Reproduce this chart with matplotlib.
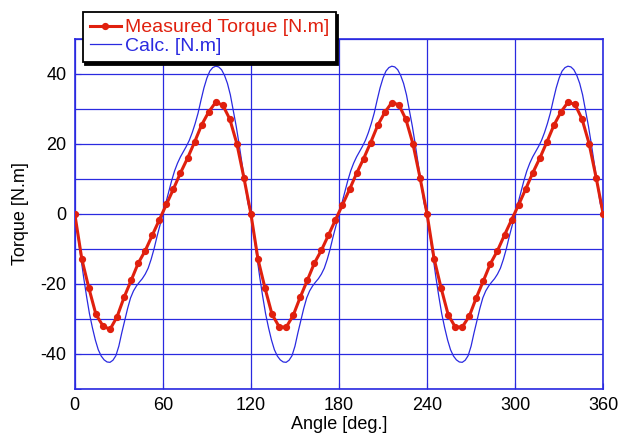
import matplotlib.pyplot as plt
from matplotlib.ticker import MultipleLocator

plt.rcParams['font.family'] = ['Liberation Sans', 'DejaVu Sans']
plt.rcParams['axes.unicode_minus'] = False

# measured torque, one point every 4.8 deg
meas_angle = [i * 4.8 for i in range(76)]
meas_torque = [
    0, -12.9, -21.2, -28.7, -32.0, -33.0, -29.4, -23.8, -19.0, -14.1, -10.5, -6.1, -1.7,
    2.7, 7.1, 11.7, 15.9, 20.5, 25.4, 29.1, 31.9, 31.1, 27.1, 20.1, 10.4,
    0, -12.9, -21.2, -28.7, -32.2, -32.4, -29.0, -23.8, -19.0, -14.1, -10.4, -6.1, -1.7,
    2.6, 7.0, 11.6, 15.8, 20.4, 25.3, 29.0, 31.8, 31.2, 27.0, 20.0, 10.4,
    0, -12.8, -21.2, -28.8, -32.3, -32.3, -29.2, -23.9, -19.1, -14.2, -10.5, -6.0, -1.7,
    2.6, 7.1, 11.7, 15.9, 20.5, 25.3, 29.1, 31.9, 31.3, 27.1, 20.1, 10.4, 0,
]

# calculated torque over one 120 deg period, read every 2 deg
calc_period = [
    0, -6, -12, -18, -23.5, -28.5, -32.5, -36, -38.8, -40.6, -41.7, -42.3, -42.4,
    -41.8, -40.5, -37.8, -34, -30.5, -27, -24, -22, -20.6, -19.5, -18.5, -17.2,
    -15.5, -13, -10, -6.5, -3.3, 0, 3.2, 6.3, 9.5, 12.3, 14.5, 16.3, 17.8, 19.3,
    21, 23.2, 25.8, 28.8, 32.5, 36, 38.8, 40.8, 41.8, 42.2, 42, 41.2, 39.6, 37.3,
    34, 29.5, 25, 19.8, 14.2, 8.5, 3,
]
calc_torque = calc_period * 3 + [0]
calc_angle = [i * 2 for i in range(len(calc_torque))]

blue = '#2a2ae0'
red = '#e0200e'

fig = plt.figure(figsize=(6.18, 4.37), dpi=100)
ax = fig.add_axes([0.121, 0.110, 0.855, 0.801])

ax.plot(meas_angle, meas_torque, color=red, lw=2.2, marker='o', ms=4.2,
        label='Measured Torque [N.m]', zorder=3)
ax.plot(calc_angle, calc_torque, color=blue, lw=0.9, label='Calc. [N.m]', zorder=2)

ax.set_xlim(0, 360)
ax.set_ylim(-50, 50)
ax.xaxis.set_major_locator(MultipleLocator(60))
ax.yaxis.set_major_locator(MultipleLocator(20))
ax.yaxis.set_minor_locator(MultipleLocator(10))
ax.grid(True, which='both', color=blue, lw=0.9)
ax.tick_params(which='both', direction='in', colors=blue, labelcolor='black',
               labelsize=13, length=4, pad=6)
for s in ax.spines.values():
    s.set_color(blue)
    s.set_linewidth(1.2)

ax.set_xlabel('Angle [deg.]', fontsize=13, labelpad=1)
ax.set_ylabel('Torque [N.m]', fontsize=13, labelpad=8)

leg = ax.legend(loc='upper left', bbox_to_anchor=(0.015, 1.077), borderaxespad=0,
                fontsize=14, handlelength=1.6, handletextpad=0.2, labelspacing=0.05,
                borderpad=0.35, fancybox=False, shadow={'color': 'black', 'alpha': 1},
                edgecolor='black', framealpha=1)
leg.get_frame().set_linewidth(1.3)
for txt, c in zip(leg.get_texts(), [red, blue]):
    txt.set_color(c)

fig.savefig('out.png', dpi=100)
